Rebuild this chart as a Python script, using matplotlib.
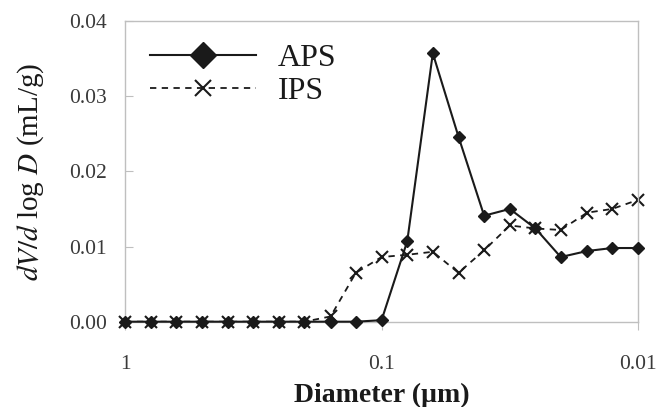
import numpy as np
import matplotlib.pyplot as plt
from matplotlib.ticker import FixedLocator, NullLocator, FuncFormatter

# pore diameter (um), 10 steps per decade from 1 down to 0.01
diameter = [1.0, 0.794, 0.631, 0.501, 0.398, 0.316, 0.251, 0.200, 0.158, 0.126,
            0.100, 0.0794, 0.0631, 0.0501, 0.0398, 0.0316, 0.0251, 0.0200,
            0.0158, 0.0126, 0.0100]

aps = [0, 0, 0, 0, 0, 0, 0, 0, 0, 0,
       0.0002, 0.0107, 0.0357, 0.0246, 0.0141, 0.0150, 0.0124, 0.0086,
       0.0094, 0.0098, 0.0098]

ips = [0, 0, 0, 0, 0, 0, 0, 0, 0.0007, 0.0065,
       0.0086, 0.0089, 0.0093, 0.0065, 0.0095, 0.0128, 0.0124, 0.0122,
       0.0145, 0.0150, 0.0162]

x_ticks = [1, 0.1, 0.01]
x_tick_labels = ["1", "0.1", "0.01"]
y_ticks = [0.0, 0.01, 0.02, 0.03, 0.04]

plt.rcParams['font.family'] = ['Liberation Serif', 'DejaVu Serif']
plt.rcParams['mathtext.fontset'] = 'stix'

fig = plt.figure(figsize=(6.59, 4.07), dpi=100)
ax = fig.add_axes([0.19, 0.2096, 0.778, 0.7388])

ink = '#1a1a1a'
grey = '#bfbfbf'

ax.plot(diameter, aps, '-', color=ink, lw=1.5, marker='D', ms=6.5,
        label='APS', clip_on=False, zorder=3)
ax.plot(diameter, ips, '--', color=ink, lw=1.3, dashes=(3.5, 3), marker='x',
        ms=8, mew=1.5, label='IPS', clip_on=False, zorder=2)

ax.set_xscale('log')
ax.set_xlim(1, 0.01)
ax.set_ylim(0, 0.04)
ax.xaxis.set_major_locator(FixedLocator(x_ticks))
ax.xaxis.set_minor_locator(NullLocator())
ax.set_xticklabels(x_tick_labels)
ax.set_yticks(y_ticks)
ax.yaxis.set_major_formatter(FuncFormatter(lambda v, p: f"{v:.2f}"))

for s in ax.spines.values():
    s.set_color(grey)
    s.set_linewidth(1.0)

ax.tick_params(axis='y', direction='in', length=6, color=grey, pad=13,
               labelsize=15.5, labelcolor='#3a3a3a')
ax.tick_params(axis='x', direction='out', length=6, color=grey, pad=18,
               labelsize=15.5, labelcolor='#3a3a3a')

ax.set_xlabel('Diameter (\u00b5m)', fontsize=20, fontweight='bold', color=ink,
              labelpad=6)
ax.set_ylabel('$dV/d$ log $D$ (mL/g)', fontsize=21, color=ink, labelpad=17)

leg = ax.legend(loc='upper left', bbox_to_anchor=(0.005, 1.0), frameon=False,
                fontsize=23, handlelength=3.3, handletextpad=0.7,
                labelspacing=0.12, borderaxespad=0.3)
leg.legend_handles[0].set_markersize(13)
leg.legend_handles[1].set_markersize(11)
for t in leg.get_texts():
    t.set_color(ink)

fig.savefig('out.png', dpi=100)
